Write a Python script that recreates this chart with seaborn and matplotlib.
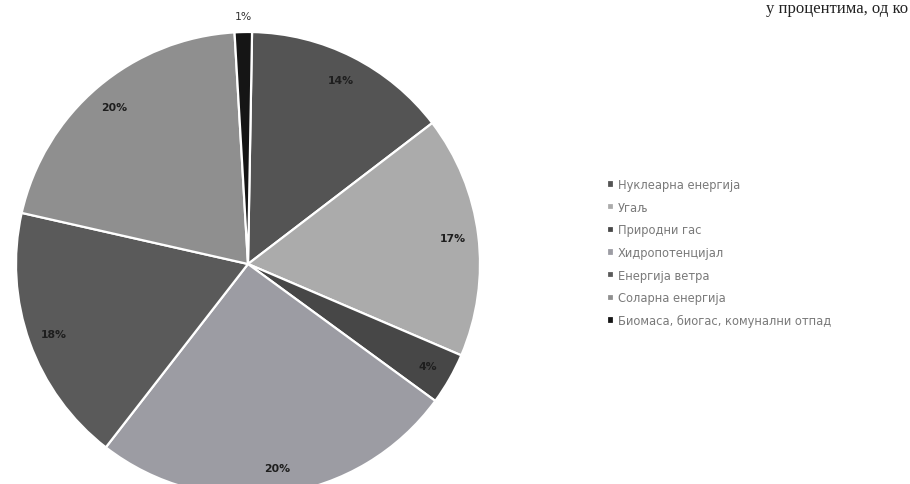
import matplotlib
matplotlib.use("Agg")
import matplotlib.pyplot as plt
import seaborn as sns
import numpy as np

# ---- data ----
categories = [
    "Нуклеарна енергија",
    "Угаљ",
    "Природни гас",
    "Хидропотенцијал",
    "Енергија ветра",
    "Соларна енергија",
    "Биомаса, биогас, комунални отпад",
]
shares = [14.3, 16.8, 3.6, 25.4, 18.0, 20.5, 1.2]
# percentage labels as printed on the chart
pct_labels = ["14%", "17%", "4%", "20%", "18%", "20%", "1%"]
slice_colors = ["#545454", "#ababab", "#474747", "#9c9ca3", "#5a5a5a", "#8f8f8f", "#151515"]

sns.set_theme(style="white")
plt.rcParams["font.family"] = ["DejaVu Sans"]

W, H, DPI = 910, 485, 100
fig = plt.figure(figsize=(W / DPI, H / DPI), dpi=DPI)
fig.patch.set_facecolor("white")

cx, cy, r = 248, 265, 232
ax = fig.add_axes([(cx - r) / W, (H - cy - r) / H, 2 * r / W, 2 * r / H])
wedges, _ = ax.pie(
    shares,
    colors=slice_colors,
    startangle=89,
    counterclock=False,
    wedgeprops=dict(edgecolor="white", linewidth=1.6),
    radius=1.0,
)
ax.set_aspect("equal")
ax.set_xlim(-1, 1)
ax.set_ylim(-1, 1)
ax.axis("off")

for w, lab, s in zip(wedges, pct_labels, shares):
    ang = np.deg2rad((w.theta1 + w.theta2) / 2)
    d = 1.07 if s < 2 else 0.89
    ax.text(d * np.cos(ang), d * np.sin(ang), lab, ha="center", va="center",
            fontsize=7.8, color="#1e1e1e" if s >= 2 else "#333333",
            fontweight="bold" if s >= 2 else "normal", clip_on=False)

leg = fig.legend(
    wedges, categories,
    loc="upper left", bbox_to_anchor=(607 / W, 1 - 179 / H),
    frameon=False, fontsize=8.3, labelcolor="#7a7a7a",
    handlelength=0.6, handleheight=0.6, handletextpad=0.35,
    labelspacing=0.84, borderaxespad=0, borderpad=0,
)

# line of the surrounding document text at the top edge
fig.text(908 / W, 1 - 1 / H, "у процентима, од ко", fontsize=12,
         family="Liberation Serif", color="#222222", ha="right", va="top")

fig.savefig("out.png", dpi=DPI, facecolor="white")
